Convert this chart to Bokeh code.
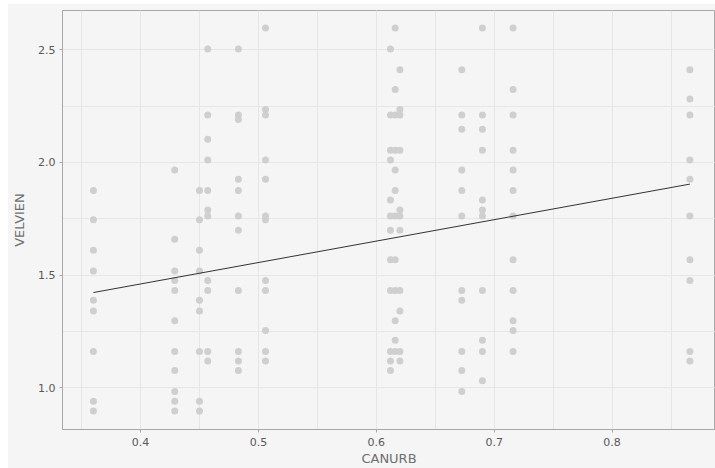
from bokeh.plotting import figure
from bokeh.models import Range1d, SingleIntervalTicker, ColumnDataSource, PrintfTickFormatter, Spacer
from bokeh.layouts import column, row
from bokeh.embed import file_html
from bokeh.resources import INLINE

# CANURB value of each column of points
canurb_levels = [0.360, 0.429, 0.450, 0.457, 0.483, 0.506,
                 0.612, 0.616, 0.620, 0.6725, 0.690, 0.716, 0.866]

# VELVIEN values, one list per CANURB level
vel_0360 = [1.876, 1.746, 1.611, 1.519, 1.389, 1.341, 1.162, 0.941, 0.898]
vel_0429 = [1.967, 1.659, 1.519, 1.476, 1.432, 1.298, 1.162, 1.077, 0.984, 0.941, 0.898]
vel_0450 = [1.876, 1.746, 1.611, 1.519, 1.389, 1.341, 1.162, 0.941, 0.898]
vel_0457 = [2.503, 2.211, 2.103, 2.011, 1.876, 1.789, 1.762, 1.476, 1.432, 1.162, 1.119]
vel_0483 = [2.503, 2.211, 2.190, 1.925, 1.876, 1.762, 1.699, 1.432, 1.162, 1.119, 1.077]
vel_0506 = [2.596, 2.235, 2.211, 2.011, 1.925, 1.762, 1.746, 1.476, 1.432, 1.255, 1.162, 1.119]
vel_0612 = [2.503, 2.211, 2.054, 2.011, 1.833, 1.762, 1.699, 1.568, 1.432, 1.162, 1.119, 1.077]
vel_0616 = [2.596, 2.324, 2.211, 2.054, 1.967, 1.876, 1.762, 1.568, 1.432, 1.298, 1.211, 1.162]
vel_0620 = [2.411, 2.235, 2.211, 2.054, 1.789, 1.762, 1.699, 1.432, 1.341, 1.162, 1.119]
vel_0673 = [2.411, 2.211, 2.147, 1.967, 1.876, 1.762, 1.432, 1.389, 1.162, 1.077, 0.984]
vel_0690 = [2.596, 2.211, 2.147, 2.054, 1.833, 1.789, 1.762, 1.432, 1.211, 1.162, 1.032]
vel_0716 = [2.596, 2.324, 2.211, 2.054, 1.967, 1.876, 1.762, 1.568, 1.432, 1.298, 1.255, 1.162]
vel_0866 = [2.411, 2.281, 2.211, 2.011, 1.925, 1.762, 1.568, 1.476, 1.162, 1.119]

velvien_groups = [vel_0360, vel_0429, vel_0450, vel_0457, vel_0483, vel_0506,
                  vel_0612, vel_0616, vel_0620, vel_0673, vel_0690, vel_0716, vel_0866]

# fitted line
fit_canurb = [0.360, 0.866]
fit_velvien = [1.423, 1.904]

xs, ys = [], []
for xv, group in zip(canurb_levels, velvien_groups):
    for yv in group:
        xs.append(xv)
        ys.append(yv)
src = ColumnDataSource(dict(x=xs, y=ys))

FONT = "DejaVu Sans"
BG = "#f5f5f5"
GRID = "#e6e6e6"
AXIS = "#a8a8a8"

p = figure(width=708, height=465, output_backend="svg", toolbar_location=None,
           x_range=Range1d(0.3338, 0.8877), y_range=Range1d(0.8155, 2.674),
           min_border_left=55, min_border_right=0, min_border_top=7, min_border_bottom=38,
           background_fill_color=BG, border_fill_color=BG)

p.outline_line_color = AXIS
p.outline_line_width = 1

p.xaxis.ticker = SingleIntervalTicker(interval=0.1, num_minor_ticks=2)
p.yaxis.ticker = SingleIntervalTicker(interval=0.5, num_minor_ticks=2)
p.yaxis.formatter = PrintfTickFormatter(format="%.1f")
p.xaxis.formatter = PrintfTickFormatter(format="%.1f")

for g in (p.xgrid, p.ygrid):
    g.grid_line_color = GRID
    g.minor_grid_line_color = GRID
    g.grid_line_width = 1
    g.minor_grid_line_width = 1

for ax in (p.xaxis, p.yaxis):
    ax.axis_line_color = AXIS
    ax.major_tick_line_color = AXIS
    ax.major_tick_in = 0
    ax.major_tick_out = 3
    ax.minor_tick_out = 0
    ax.minor_tick_in = 0
    ax.major_label_text_font = FONT
    ax.major_label_text_font_size = "11px"
    ax.major_label_text_color = "#595959"
    ax.axis_label_text_font = FONT
    ax.axis_label_text_font_size = "13px"
    ax.axis_label_text_font_style = "normal"
    ax.axis_label_text_color = "#6e6e6e"

p.xaxis.axis_label = "CANURB"
p.yaxis.axis_label = "VELVIEN"
p.xaxis.major_label_text_align = "right"
p.xaxis.major_label_standoff = 5
p.xaxis.axis_label_standoff = 2
p.yaxis.major_label_standoff = 4
p.yaxis.axis_label_standoff = 8

p.scatter("x", "y", source=src, size=7, fill_color="#cfcfcf", line_color=None)
p.line(fit_canurb, fit_velvien, line_color="#333333", line_width=1)

layout = column(Spacer(height=3, width=715), row(Spacer(width=7, height=465), p, spacing=0), spacing=0)

open("out.html", "w").write(file_html(layout, INLINE))
